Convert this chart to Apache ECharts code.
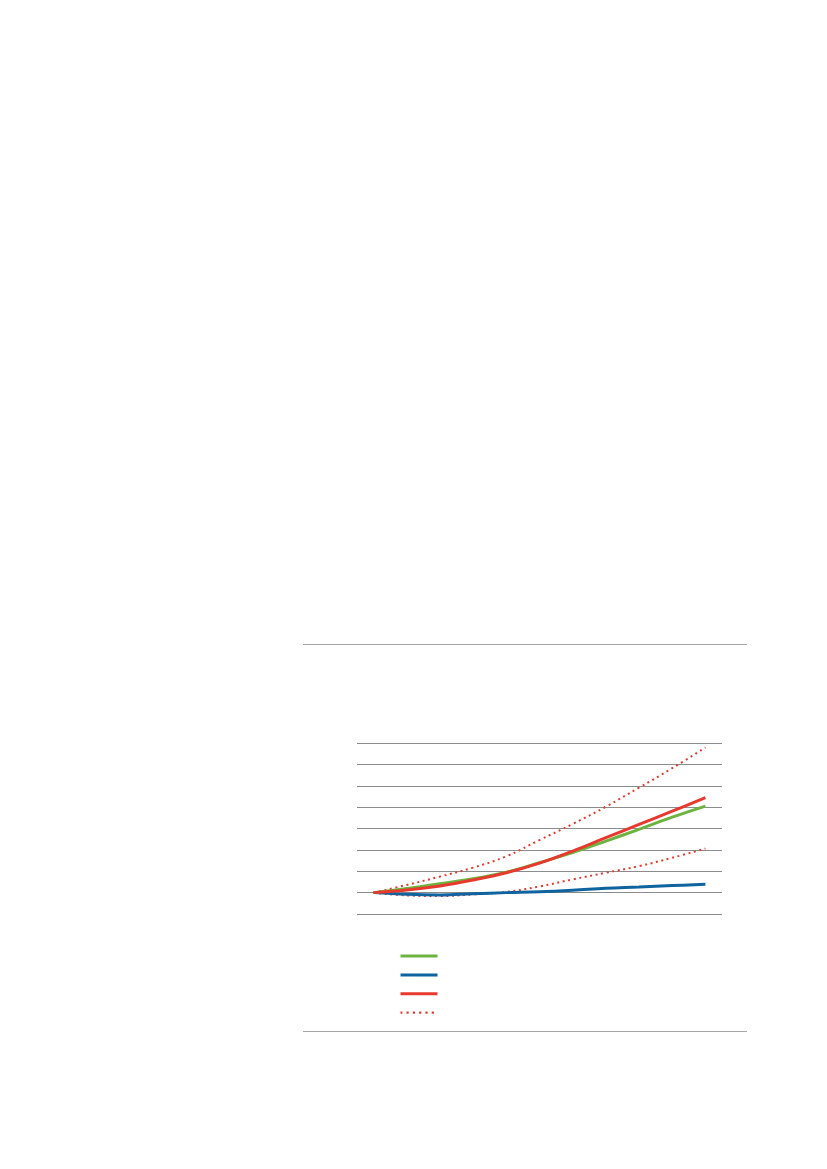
<!DOCTYPE html>
<html>
<head>
<meta charset="utf-8">
<script src="https://cdn.jsdelivr.net/npm/echarts@6/dist/echarts.min.js"></script>
<style>
  html, body { margin: 0; padding: 0; background: #fff; }
  #main { position: absolute; left: 0; top: 0; width: 827px; height: 1169px; }
  .rule { position: absolute; left: 303px; width: 444px; height: 0; border-top: 1px solid #a6a6a6; }
</style>
</head>
<body>
<div id="main"></div>
<div class="rule" style="top:644px"></div>
<div class="rule" style="top:1031px"></div>
<script>
// 横轴类别（图中无文字）
var categories = ['0', '1', '2', '3', '4', '5', '6', '7', '8', '9', '10'];
// 各条线的值，起点为100
var greenValues = [100, 101.9, 104.2, 106.5, 109.6, 114, 118.7, 124.1, 129.6, 135.3, 140.5];
var blueValues = [100, 99.2, 98.9, 99.5, 100, 100.4, 101.1, 102, 102.6, 103.3, 103.9];
var redValues = [100, 101.2, 103.1, 105.9, 109.3, 113.8, 119.4, 125.7, 131.9, 138.1, 144.4];
var upperValues = [100, 103.6, 107.5, 111.7, 117, 124.6, 132.1, 140.2, 149.1, 158.2, 167.9];
var lowerValues = [100, 98.7, 98.4, 99.2, 100.3, 102.9, 106.2, 109.3, 112.4, 116.3, 120.6];
var seriesNames = ['A', 'B', 'C', 'D'];

var GREEN = '#6db33f';
var BLUE = '#0f64a0';
var RED = '#e8392e';

var myChart = echarts.init(document.getElementById('main'));

function solidLine(name, data, color) {
  return {
    name: name,
    type: 'line',
    data: data,
    smooth: 0.4,
    symbol: 'none',
    lineStyle: { color: color, width: 3 },
    itemStyle: { color: color }
  };
}
function dottedLine(name, data) {
  return {
    name: name,
    type: 'line',
    data: data,
    smooth: 0.4,
    symbol: 'none',
    lineStyle: { color: RED, width: 2, type: [2, 3.6] },
    itemStyle: { color: RED }
  };
}

// 图例线宽：实线3，点线2
var legendData = seriesNames.map(function (n, i) {
  return i < 3
    ? { name: n, lineStyle: { width: 3 } }
    : { name: n, lineStyle: { width: 2.2, type: [2.2, 4.1], dashOffset: -6 } };
});

var option = {
  animation: false,
  grid: {
    left: 357,
    right: 105,
    top: 743,
    bottom: 255
  },
  legend: {
    orient: 'vertical',
    left: 399,
    top: 949,
    padding: 0,
    itemWidth: 37,
    itemHeight: 14,
    itemGap: 6.3,
    // 图例只画线，不画点
    itemStyle: { opacity: 0 },
    data: legendData,
    formatter: function () { return ''; }
  },
  xAxis: {
    type: 'category',
    data: categories,
    boundaryGap: true,
    axisLine: { show: false },
    axisTick: { show: false },
    axisLabel: { show: false }
  },
  yAxis: {
    type: 'value',
    min: 90,
    max: 170,
    interval: 10,
    axisLine: { show: false },
    axisTick: { show: false },
    axisLabel: { show: false },
    splitLine: { lineStyle: { color: '#8c8c8c', width: 1 } }
  },
  series: [
    dottedLine(seriesNames[3], upperValues),
    dottedLine(seriesNames[3], lowerValues),
    solidLine(seriesNames[1], blueValues, BLUE),
    solidLine(seriesNames[0], greenValues, GREEN),
    solidLine(seriesNames[2], redValues, RED)
  ]
};
myChart.setOption(option);
</script>
</body>
</html>
